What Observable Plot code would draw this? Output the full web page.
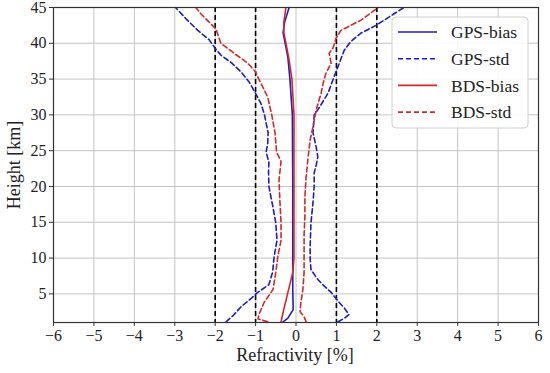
<!DOCTYPE html>
<html>
<head>
<meta charset="utf-8">
<script src="https://cdn.jsdelivr.net/npm/d3@7"></script>
<script src="https://cdn.jsdelivr.net/npm/@observablehq/plot@0.6"></script>
<style>
  html, body { margin: 0; padding: 0; background: white; }
  #chart { width: 550px; height: 373px; }
  #chart svg, #chart svg text { font-family: "Liberation Serif", "Times New Roman", serif !important; }
</style>
</head>
<body>
<div id="chart"></div>
<script>
// ---- data ----
const xTicks = [-6, -5, -4, -3, -2, -1, 0, 1, 2, 3, 4, 5, 6];
const yTicks = [5, 10, 15, 20, 25, 30, 35, 40, 45];
const refLines = [-2, -1, 1, 2];
const seriesNames = ["GPS-bias", "GPS-std", "BDS-bias", "BDS-std"];

const gpsBiasH = [1.1, 1.6, 2.8, 5.6, 10, 20, 30, 35, 38, 41.5, 43, 45];
const gpsBiasV = [-0.32, -0.2, -0.07, -0.08, -0.08, -0.08, -0.09, -0.15, -0.2, -0.32, -0.28, -0.17];

const bdsBiasH = [1.1, 2.4, 5.2, 8, 10, 20, 30, 35, 38, 41.5, 43, 45];
const bdsBiasV = [-0.37, -0.32, -0.2, -0.08, -0.05, -0.05, -0.05, -0.1, -0.18, -0.3, -0.3, -0.25];

const gpsStdLeftH = [1.1, 2.0, 3.2, 4.5, 5.1, 6.3, 8.0, 10.2, 12.5, 14.9, 17.1, 20.0, 22.0, 23.4, 24.8, 26.0, 27.5, 30.0, 31.5, 33.0, 34.6, 36.0, 37.3, 38.3, 39.3, 40.5, 41.8, 43.3, 45];
const gpsStdLeftV = [-1.73, -1.55, -1.36, -1.08, -0.97, -0.67, -0.58, -0.54, -0.47, -0.5, -0.57, -0.67, -0.68, -0.67, -0.74, -0.7, -0.69, -0.78, -0.86, -1.0, -1.16, -1.36, -1.6, -1.85, -2.0, -2.15, -2.43, -2.7, -2.98];

const gpsStdRightH = [1.1, 1.6, 2.1, 3.0, 3.8, 5.2, 6.2, 7.0, 8.4, 10, 11.6, 14.9, 17.7, 20, 21.9, 23, 24.1, 25.5, 27.5, 30, 30.7, 33, 35.3, 36.6, 39, 40.2, 41.4, 42.5, 45];
const gpsStdRightV = [1.04, 1.2, 1.31, 1.2, 1.07, 0.87, 0.68, 0.54, 0.37, 0.35, 0.35, 0.37, 0.42, 0.45, 0.45, 0.5, 0.54, 0.5, 0.42, 0.45, 0.54, 0.79, 0.94, 1.03, 1.19, 1.35, 1.6, 1.98, 2.67];

const bdsStdLeftH = [1.1, 1.5, 2.1, 3.0, 3.8, 5.6, 8, 10.2, 12.5, 14.9, 18.1, 20.9, 23.5, 24.8, 27.5, 30, 32.5, 35, 36, 37.2, 38.6, 40, 42, 44.1, 45];
const bdsStdLeftV = [-0.7, -0.94, -0.92, -0.85, -0.79, -0.57, -0.5, -0.45, -0.37, -0.37, -0.4, -0.42, -0.37, -0.48, -0.52, -0.6, -0.7, -0.92, -1.0, -1.19, -1.53, -1.86, -1.98, -2.35, -2.48];

const bdsStdRightH = [1.1, 1.8, 2.5, 3.8, 5.6, 8, 10.2, 13.2, 15.8, 18.5, 21.3, 24.1, 26.5, 28.3, 30.7, 33, 34.4, 35.8, 37.2, 38.6, 39.4, 40.7, 41.8, 43.2, 45];
const bdsStdRightV = [0.25, 0.2, 0.1, 0.12, 0.17, 0.2, 0.2, 0.2, 0.22, 0.22, 0.25, 0.3, 0.35, 0.42, 0.5, 0.62, 0.67, 0.74, 0.87, 0.82, 0.92, 0.99, 1.11, 1.6, 2.03];

// ---- build table ----
function rows(series, part, hs, vs) {
  return hs.map((h, i) => ({series, part, h, v: vs[i]}));
}
const solidData = [
  ...rows("GPS-bias", "GPS-bias", gpsBiasH, gpsBiasV),
  ...rows("BDS-bias", "BDS-bias", bdsBiasH, bdsBiasV)
];
const dashData = [
  ...rows("GPS-std", "GPS-std-L", gpsStdLeftH, gpsStdLeftV),
  ...rows("GPS-std", "GPS-std-R", gpsStdRightH, gpsStdRightV),
  ...rows("BDS-std", "BDS-std-L", bdsStdLeftH, bdsStdLeftV),
  ...rows("BDS-std", "BDS-std-R", bdsStdRightH, bdsStdRightV)
];

const BLUE = "#1c1cc8";
const RED = "#d62728";
const colorOf = {"GPS-bias": BLUE, "GPS-std": BLUE, "BDS-bias": RED, "BDS-std": RED};
const dashOf = {"GPS-bias": null, "GPS-std": "5,3", "BDS-bias": null, "BDS-std": "5,3"};
const fmt = d => d < 0 ? "\u2212" + Math.abs(d) : String(d);
const SERIF = "Liberation Serif, Times New Roman, serif";

const chart = Plot.plot({
  width: 550,
  height: 373,
  marginLeft: 53,
  marginRight: 12,
  marginTop: 7,
  marginBottom: 51,
  style: {fontFamily: SERIF, fontSize: "16px", background: "white", color: "#222"},
  x: {domain: [-6, 6], ticks: xTicks},
  y: {domain: [1, 45], ticks: yTicks},
  color: {domain: seriesNames, range: [BLUE, BLUE, RED, RED]},
  marks: [
    Plot.gridX(xTicks, {stroke: "#c4c4c4", strokeOpacity: 1, strokeWidth: 1}),
    Plot.gridY(yTicks, {stroke: "#c4c4c4", strokeOpacity: 1, strokeWidth: 1}),
    Plot.ruleX(refLines, {stroke: "black", strokeWidth: 1.6, strokeDasharray: "5,3"}),
    Plot.line(dashData, {x: "v", y: "h", z: "part", stroke: "series", strokeWidth: 1.6, strokeDasharray: "5,3"}),
    Plot.line(solidData, {x: "v", y: "h", z: "part", stroke: "series", strokeWidth: 1.6}),
    Plot.frame({stroke: "#333", strokeWidth: 1.2}),
    Plot.axisX(xTicks, {tickSize: 4, tickPadding: 3, tickFormat: fmt, label: null, stroke: "#333", fontSize: 16}),
    Plot.axisY(yTicks, {tickSize: 4, tickPadding: 3, tickFormat: fmt, label: null, stroke: "#333", fontSize: 16})
  ]
});

document.getElementById("chart").appendChild(chart);

// ---- axis titles and legend ----
const svg = d3.select(chart);
svg.append("text")
  .attr("x", 295).attr("y", 361)
  .attr("text-anchor", "middle")
  .style("font-size", "18px").attr("fill", "#222")
  .text("Refractivity [%]");
svg.append("text")
  .attr("transform", "translate(20,165) rotate(-90)")
  .attr("text-anchor", "middle")
  .style("font-size", "18px").attr("fill", "#222")
  .text("Height [km]");

const lg = svg.append("g").attr("text-anchor", "start");
lg.append("rect")
  .attr("x", 392).attr("y", 17).attr("width", 136).attr("height", 111)
  .attr("rx", 4).attr("fill", "white").attr("fill-opacity", 0.88)
  .attr("stroke", "#d0d0d0");
seriesNames.forEach((name, i) => {
  const y = 32 + i * 26.7;
  lg.append("line")
    .attr("x1", 398).attr("x2", 437).attr("y1", y).attr("y2", y)
    .attr("stroke", colorOf[name]).attr("stroke-width", 1.6)
    .attr("stroke-dasharray", dashOf[name]);
  lg.append("text")
    .attr("x", 451).attr("y", y).attr("dy", "0.35em")
    .attr("text-anchor", "start")
    .style("font-size", "17.5px").attr("fill", "#222")
    .text(name);
});

svg.selectAll("text").style("font-family", SERIF);
svg.selectAll("g[aria-label$='axis tick label'], g[aria-label$='tick label']").attr("font-family", SERIF);
</script>
</body>
</html>
